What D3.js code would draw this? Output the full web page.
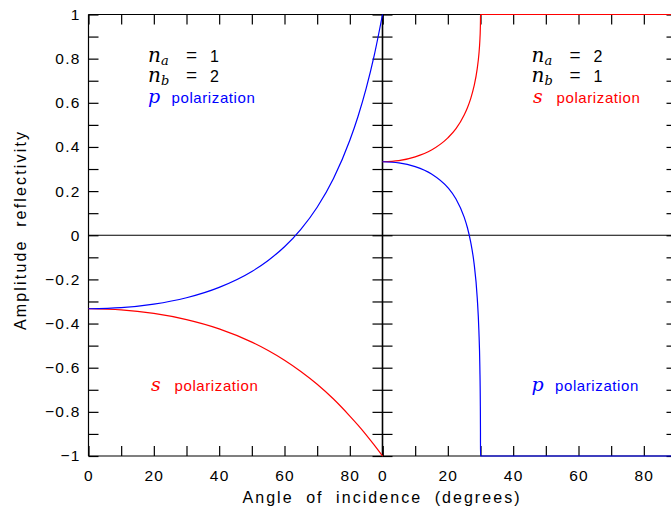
<!DOCTYPE html>
<html>
<head>
<meta charset="utf-8">
<script src="https://cdn.jsdelivr.net/npm/d3@7"></script>
<style>
  body { margin: 0; background: #fff; }
  svg { font-family: "Liberation Sans", Arial, sans-serif; }
</style>
</head>
<body>
<div id="chart"></div>
<script>
// Frame of the two panels (right panel runs a little past the window)
const width = 671, height = 508;
const plot = { left: 88.5, mid: 382.5, right: 676.5, top: 14.5, bottom: 456 };

// Left panel: n_a = 1, n_b = 2
const leftAngle = [0, 10, 20, 30, 40, 50, 55, 60, 65, 70, 75, 80, 82.5, 85, 87.5, 90];
const leftS = [-0.333, -0.338, -0.354, -0.382, -0.424, -0.484, -0.522, -0.566, -0.617, -0.675, -0.742, -0.819, -0.86, -0.904, -0.951, -1];
const leftP = [-0.333, -0.328, -0.312, -0.283, -0.236, -0.164, -0.114, -0.052, 0.027, 0.127, 0.257, 0.43, 0.538, 0.665, 0.817, 1];

// Right panel: n_a = 2, n_b = 1
const rightAngle = [0, 5, 10, 15, 20, 22.5, 25, 26, 27, 28, 29, 29.5, 29.8, 29.95, 29.99, 30, 90];
const rightS = [0.333, 0.338, 0.355, 0.386, 0.441, 0.483, 0.545, 0.578, 0.619, 0.674, 0.755, 0.819, 0.881, 0.939, 0.972, 1, 1];
const rightP = [0.333, 0.328, 0.311, 0.278, 0.216, 0.164, 0.082, 0.034, -0.031, -0.124, -0.283, -0.43, -0.596, -0.775, -0.893, -1, -1];

// Ticks and labels
const xMajor = [0, 20, 40, 60, 80];
const xMinor = [10, 30, 50, 70, 90];
const xLabels = ["0", "20", "40", "60", "80"];
const yMajor = [-1, -0.8, -0.6, -0.4, -0.2, 0, 0.2, 0.4, 0.6, 0.8, 1];
const yMinor = [-0.9, -0.7, -0.5, -0.3, -0.1, 0.1, 0.3, 0.5, 0.7, 0.9];
const yLabels = ["\u22121", "\u22120.8", "\u22120.6", "\u22120.4", "\u22120.2", "0", "0.2", "0.4", "0.6", "0.8", "1"];

const leftIndex = ["1", "2"];
const rightIndex = ["2", "1"];

const serif = "'DejaVu Serif', 'Liberation Serif', serif";
const tick = 10;

const svg = d3
  .select("#chart")
  .append("svg")
  .attr("width", width)
  .attr("height", height);

// Scales
const x1 = d3.scaleLinear().domain([0, 90]).range([plot.left, plot.mid]);
const x2 = d3.scaleLinear().domain([0, 90]).range([plot.mid, plot.right]);
const y = d3.scaleLinear().domain([-1, 1]).range([plot.bottom, plot.top]);

function styleAxis(g) {
  g.attr("font-family", null);
  g.select(".domain").remove();
  g.selectAll(".tick line").attr("stroke", "#000").attr("stroke-width", 1.2);
  g.selectAll(".tick text")
    .attr("font-size", 15.5)
    .attr("letter-spacing", 1.2)
    .attr("fill", "#000");
}

// Bottom and top axes for each panel
[x1, x2].forEach((x) => {
  svg.append("g")
    .attr("transform", `translate(0,${plot.bottom})`)
    .call(d3.axisBottom(x).tickValues(xMajor).tickSize(-tick).tickPadding(14)
      .tickFormat((d, i) => xLabels[i]))
    .call(styleAxis);
  svg.append("g")
    .attr("transform", `translate(0,${plot.bottom})`)
    .call(d3.axisBottom(x).tickValues(xMinor).tickSize(-tick).tickFormat(""))
    .call(styleAxis);
  svg.append("g")
    .attr("transform", `translate(0,${plot.top})`)
    .call(d3.axisTop(x).tickValues(xMajor.concat(xMinor)).tickSize(-tick).tickFormat(""))
    .call(styleAxis);
});

// Left y axis with labels
svg.append("g")
  .attr("transform", `translate(${plot.left},0)`)
  .call(d3.axisLeft(y).tickValues(yMajor).tickSize(-tick).tickPadding(8)
    .tickFormat((d, i) => yLabels[i]))
  .call(styleAxis);
svg.append("g")
  .attr("transform", `translate(${plot.left},0)`)
  .call(d3.axisLeft(y).tickValues(yMinor).tickSize(-tick).tickFormat(""))
  .call(styleAxis);

// Middle axis, ticks on both sides, and the right edge
const yAll = yMajor.concat(yMinor);
svg.append("g")
  .attr("transform", `translate(${plot.mid},0)`)
  .call(d3.axisRight(y).tickValues(yAll).tickSize(-tick).tickFormat(""))
  .call(styleAxis);
svg.append("g")
  .attr("transform", `translate(${plot.mid},0)`)
  .call(d3.axisLeft(y).tickValues(yAll).tickSize(-tick).tickFormat(""))
  .call(styleAxis);
svg.append("g")
  .attr("transform", `translate(${plot.right},0)`)
  .call(d3.axisRight(y).tickValues(yAll).tickSize(-tick).tickFormat(""))
  .call(styleAxis);

// Frame lines and zero line
const frame = [
  [plot.left, plot.top, plot.right, plot.top],
  [plot.left, plot.bottom, plot.right, plot.bottom],
  [plot.left, plot.top, plot.left, plot.bottom],
  [plot.mid, plot.top, plot.mid, plot.bottom],
  [plot.right, plot.top, plot.right, plot.bottom],
];
svg.selectAll("line.frame")
  .data(frame)
  .enter()
  .append("line")
  .attr("class", "frame")
  .attr("x1", (d) => d[0]).attr("y1", (d) => d[1])
  .attr("x2", (d) => d[2]).attr("y2", (d) => d[3])
  .attr("stroke", "#000")
  .attr("stroke-width", (d, i) => (i === 3 ? 1.6 : 1.2));

svg.append("line")
  .attr("x1", x1(0)).attr("x2", x2(90))
  .attr("y1", y(0)).attr("y2", y(0))
  .attr("stroke", "#000")
  .attr("stroke-width", 1.2);

// Curves
function drawCurve(x, angles, values, color) {
  const line = d3.line()
    .x((d, i) => x(angles[i]))
    .y((d) => y(d))
    .curve(d3.curveMonotoneX);
  svg.append("path")
    .datum(values)
    .attr("fill", "none")
    .attr("stroke", color)
    .attr("stroke-width", 1.2)
    .attr("d", line);
}

drawCurve(x1, leftAngle, leftS, "#ff0000");
drawCurve(x1, leftAngle, leftP, "#0000ff");
drawCurve(x2, rightAngle, rightS, "#ff0000");
drawCurve(x2, rightAngle, rightP, "#0000ff");

// Annotations (n, subscript and value as separate texts so they don't stack)
function indexLabel(x, yb, sub, val) {
  svg.append("text").attr("x", x).attr("y", yb)
    .style("font-family", serif).style("font-style", "italic").attr("font-size", 20).text("n");
  svg.append("text").attr("x", x + 13).attr("y", yb + 3)
    .style("font-family", serif).style("font-style", "italic").attr("font-size", 13).text(sub);
  svg.append("text").attr("x", x + 38).attr("y", yb - 1).attr("font-size", 19).text("=");
  svg.append("text").attr("x", x + 62).attr("y", yb).attr("font-size", 16).text(val);
}

function polLabel(x, yb, letter, color) {
  svg.append("text").attr("x", x).attr("y", yb).attr("fill", color)
    .style("font-family", serif).style("font-style", "italic").attr("font-size", 19).text(letter);
  svg.append("text").attr("x", x + 23.5).attr("y", yb).attr("fill", color)
    .attr("font-size", 15).attr("letter-spacing", 0.6).text("polarization");
}

indexLabel(148, 61.5, "a", leftIndex[0]);
indexLabel(148, 81.5, "b", leftIndex[1]);
polLabel(148, 103, "p", "#0000ff");
polLabel(151, 391, "s", "#ff0000");

indexLabel(531.5, 61.5, "a", rightIndex[0]);
indexLabel(531.5, 81.5, "b", rightIndex[1]);
polLabel(533, 103, "s", "#ff0000");
polLabel(531.5, 391, "p", "#0000ff");

// Axis titles
svg.append("text")
  .attr("x", 381)
  .attr("y", 502.5)
  .attr("text-anchor", "middle")
  .attr("font-size", 16)
  .attr("textLength", 277)
  .attr("lengthAdjust", "spacing")
  .attr("word-spacing", 6)
  .text("Angle of incidence (degrees)");

svg.append("text")
  .attr("transform", "translate(26,231) rotate(-90)")
  .attr("text-anchor", "middle")
  .attr("font-size", 16)
  .attr("textLength", 198)
  .attr("lengthAdjust", "spacing")
  .attr("word-spacing", 6)
  .text("Amplitude reflectivity");
</script>
</body>
</html>
